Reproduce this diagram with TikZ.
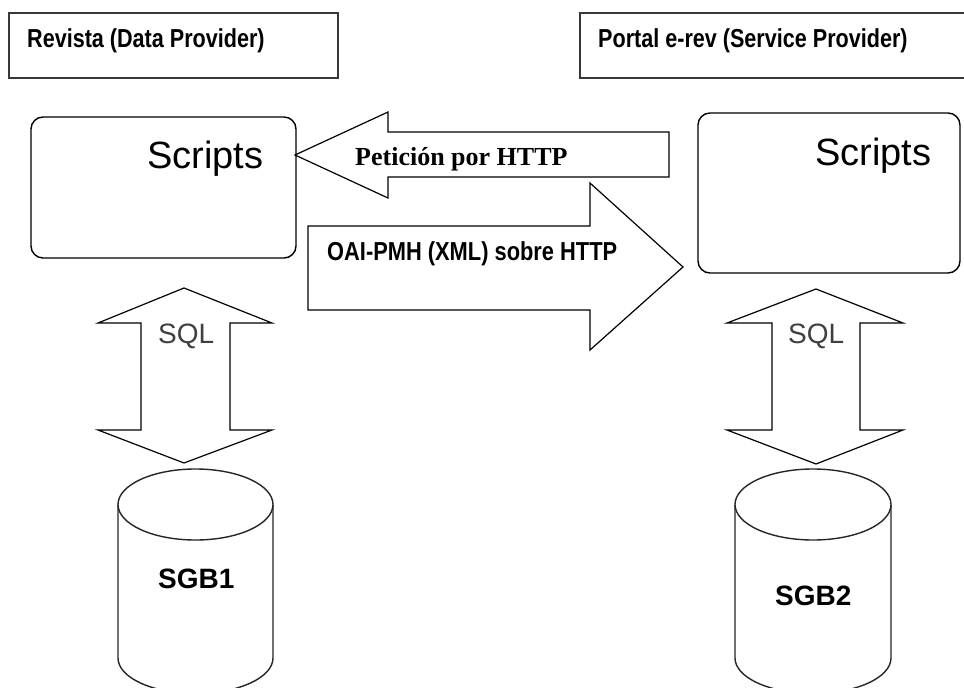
\documentclass[tikz,border=0pt]{standalone}
\usepackage{fontspec}
\usepackage{graphicx}
\setmainfont{Liberation Serif}
\newfontfamily\arialf{Liberation Sans}
\tikzset{
  hdrbox/.style={draw=black!78, line width=2pt, fill=white},
  scriptbox/.style={draw=black, line width=1.4pt, rounded corners=12pt, fill=white},
  blockarrow/.style={draw=black, line width=1.2pt, fill=white, line join=miter},
  cyl/.style={draw=black!85, line width=1.4pt, fill=white},
  hdrtext/.style={inner sep=0pt, anchor=base west, font=\arialf\fontsize{26}{30}\selectfont\bfseries},
  scrtext/.style={inner sep=0pt, anchor=base west, font=\arialf\fontsize{38}{44}\selectfont},
  sqltext/.style={inner sep=0pt, anchor=base west, text=black!75, font=\arialf\fontsize{28}{32}\selectfont},
  dbtext/.style={inner sep=0pt, anchor=base west, font=\arialf\fontsize{28}{32}\selectfont\bfseries},
  httptext/.style={inner sep=0pt, anchor=base west, font=\fontsize{26}{30}\selectfont\bfseries},
  oaitext/.style={inner sep=0pt, anchor=base west, font=\arialf\fontsize{26}{30}\selectfont\bfseries},
}
\begin{document}
\begin{tikzpicture}[x=1pt,y=-1pt]
\useasboundingbox (0,0) rectangle (964,688);
\clip (0,0) rectangle (964,688);
% header boxes
\draw[hdrbox] (9,13) rectangle (338,78);
\draw[hdrbox] (580,13) rectangle (975,78);
\node[hdrtext] (hdrL) at (27,47) {\scalebox{0.83}[1]{Revista (Data Provider)}};
\node[hdrtext] (hdrR) at (598,47) {\scalebox{0.83}[1]{Portal e-rev (Service Provider)}};
% scripts boxes
\node[scriptbox, minimum width=265pt, minimum height=141pt] (scrL) at (163.5,187.5) {};
\node[scriptbox, minimum width=262pt, minimum height=160pt] (scrR) at (829,193) {};
\node[scrtext] (scrLt) at (147,168) {Scripts};
\node[scrtext] (scrRt) at (815,165) {Scripts};
% request arrow (right to left)
\draw[blockarrow] (295,155) -- (388,112) -- (388,132) -- (669,132) -- (669,177)
  -- (388,177) -- (388,198) -- cycle;
\node[httptext] (req) at (355,165) {Petición por HTTP};
% response arrow (left to right)
\draw[blockarrow] (308,226) -- (590,226) -- (590,183) -- (683,267) -- (590,350)
  -- (590,310) -- (308,310) -- cycle;
\node[oaitext] (resp) at (327,260) {\scalebox{0.84}[1]{OAI-PMH (XML) sobre HTTP}};
% SQL double arrows
\draw[blockarrow] (184,288) -- (272,323) -- (230,323) -- (230,430) -- (272,430)
  -- (184,463) -- (98,430) -- (141,430) -- (141,323) -- (98,323) -- cycle;
\draw[blockarrow] (816,289) -- (903,323) -- (860,323) -- (860,430) -- (903,430)
  -- (816,464) -- (727,430) -- (772,430) -- (772,323) -- (727,323) -- cycle;
\node[sqltext] (sqlL) at (158,343) {SQL};
\node[sqltext] (sqlR) at (788,343) {SQL};
% databases
\draw[cyl] (118,504.5) -- (118,658) arc[start angle=180, end angle=0, x radius=77.5, y radius=35.5]
  -- (273,504.5) arc[start angle=0, end angle=-180, x radius=77.5, y radius=35.5] -- cycle;
\draw[cyl] (118,504.5) arc[start angle=180, end angle=0, x radius=77.5, y radius=35.5];
\draw[cyl] (735,504.5) -- (735,658) arc[start angle=180, end angle=0, x radius=78, y radius=35.5]
  -- (891,504.5) arc[start angle=0, end angle=-180, x radius=78, y radius=35.5] -- cycle;
\draw[cyl] (735,504.5) arc[start angle=180, end angle=0, x radius=78, y radius=35.5];
\node[dbtext] (db1) at (158,588) {SGB1};
\node[dbtext] (db2) at (775,605) {SGB2};
\end{tikzpicture}
\end{document}
